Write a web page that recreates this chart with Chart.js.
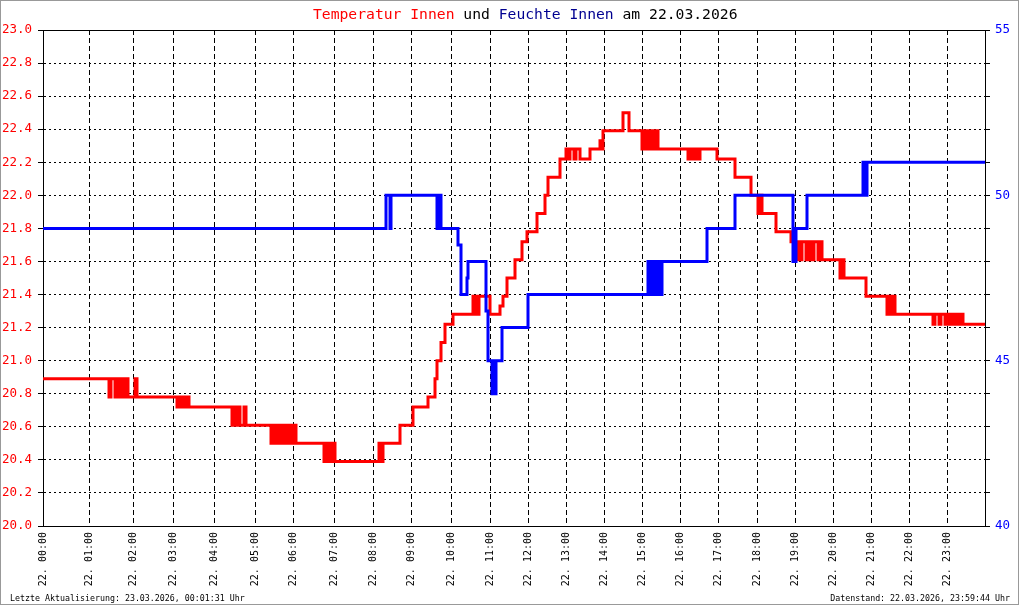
<!DOCTYPE html>
<html>
<head>
<meta charset="utf-8">
<script src="https://cdn.jsdelivr.net/npm/chart.js@4/dist/chart.umd.min.js"></script>
<style>
    html, body { margin: 0; padding: 0; background: #fff; }
    #wrap { position: relative; width: 1020px; height: 606px; overflow: hidden; }
    #rahmen { position: absolute; left: 0; top: 0; width: 1019px; height: 605px; border: 1px solid #999; box-sizing: border-box; pointer-events: none; }
    .txt { position: absolute; font-family: "DejaVu Sans Mono", monospace; white-space: pre; color: #000; }
    #titel { left: 313px; top: 6px; font-size: 14.7px; line-height: 15px; }
    #titel .rot { color: #ff0000; }
    #titel .blau { color: #000090; }
    #links { left: 10px; top: 594px; font-size: 8.3px; line-height: 9px; }
    #rechts { right: 10px; top: 594px; font-size: 8.3px; line-height: 9px; }
</style>
</head>
<body>
<div id="wrap">
    <canvas id="diagramm" width="1020" height="606"></canvas>
    <div class="txt" id="titel"><span class="rot">Temperatur Innen</span> und <span class="blau">Feuchte Innen</span> am 22.03.2026</div>
    <div class="txt" id="links">Letzte Aktualisierung: 23.03.2026, 00:01:31 Uhr</div>
    <div class="txt" id="rechts">Datenstand: 22.03.2026, 23:59:44 Uhr</div>
    <div id="rahmen"></div>
</div>
<script>
// Messpunkt-Nummer (x) zu jeder vollen Stunde
var hourIdx = [0, 46, 90, 130, 171, 212, 250, 291, 330, 368, 408, 447, 485, 523, 561, 599, 637, 675, 714, 752, 790, 828, 866, 904];
var hourLabels = ["22. 00:00", "22. 01:00", "22. 02:00", "22. 03:00", "22. 04:00", "22. 05:00", "22. 06:00", "22. 07:00",
    "22. 08:00", "22. 09:00", "22. 10:00", "22. 11:00", "22. 12:00", "22. 13:00", "22. 14:00", "22. 15:00",
    "22. 16:00", "22. 17:00", "22. 18:00", "22. 19:00", "22. 20:00", "22. 21:00", "22. 22:00", "22. 23:00"];
var lastIdx = 942;

// Temperatur Innen (°C) - Wertwechsel
var tempIdx = [0, 66, 68, 72, 74, 76, 79, 81, 83, 85, 92, 94,
    134, 136, 138, 140, 142, 144, 146,
    189, 191, 193, 195, 197, 201, 203,
    228, 230, 233, 235, 238, 241, 244, 246, 249, 251, 253,
    281, 284, 286, 289, 292,
    336, 338, 340, 357, 370, 385,
    392, 394, 398, 402, 410,
    430, 432, 433, 435, 436, 447, 457, 460, 464, 472, 479, 484, 494, 502, 505, 517,
    523, 525, 527, 531, 533, 537, 547, 557, 559, 560, 580, 586,
    599, 601, 603, 605, 607, 609, 611, 613, 615,
    645, 647, 649, 652, 655, 657, 674, 692, 708, 715, 717, 719, 733, 748,
    752, 754, 757, 759, 763, 765, 768, 771, 775, 777, 779,
    797, 799, 801, 823, 844, 846, 848, 850, 852,
    890, 892, 896, 898, 902, 905, 908, 911, 914, 917, 920, 942];
var tempVal = [20.89, 20.78, 20.89, 20.78, 20.89, 20.78, 20.89, 20.78, 20.89, 20.78, 20.89, 20.78,
    20.72, 20.78, 20.72, 20.78, 20.72, 20.78, 20.72,
    20.61, 20.72, 20.61, 20.72, 20.61, 20.72, 20.61,
    20.50, 20.61, 20.50, 20.61, 20.50, 20.61, 20.50, 20.61, 20.50, 20.61, 20.50,
    20.39, 20.50, 20.39, 20.50, 20.39,
    20.50, 20.39, 20.50, 20.61, 20.72, 20.78,
    20.89, 21.00, 21.11, 21.22, 21.28,
    21.39, 21.28, 21.39, 21.28, 21.39, 21.28, 21.33, 21.39, 21.50, 21.61, 21.72, 21.78, 21.89, 22.00, 22.11, 22.22,
    22.28, 22.22, 22.28, 22.22, 22.28, 22.22, 22.28, 22.33, 22.28, 22.39, 22.50, 22.39,
    22.28, 22.39, 22.28, 22.39, 22.28, 22.39, 22.28, 22.39, 22.28,
    22.22, 22.28, 22.22, 22.28, 22.22, 22.28, 22.22, 22.11, 22.00, 21.89, 22.00, 21.89, 21.78, 21.72,
    21.61, 21.72, 21.61, 21.72, 21.61, 21.72, 21.61, 21.72, 21.61, 21.72, 21.61,
    21.50, 21.61, 21.50, 21.39, 21.28, 21.39, 21.28, 21.39, 21.28,
    21.22, 21.28, 21.22, 21.28, 21.22, 21.28, 21.22, 21.28, 21.22, 21.28, 21.22, 21.22];

// Feuchte Innen (%) - Wertwechsel
var humIdx = [0, 343, 347, 348, 394, 395, 396, 397, 398, 415, 418, 424, 425,
    443, 445, 449, 450, 451, 453, 459, 485,
    605, 606, 607, 609, 610, 612, 613, 615, 616, 618, 619,
    664, 692, 750, 753, 764, 820, 821, 822, 823, 824, 942];
var humVal = [49, 50, 49, 50, 49, 50, 49, 50, 49, 48.5, 47, 47.5, 48,
    46.5, 45, 44, 45, 44, 45, 46, 47,
    48, 47, 48, 47, 48, 47, 48, 47, 48, 47, 48,
    49, 50, 48, 49, 50, 51, 50, 51, 50, 51, 51];

function toPoints(xs, ys) {
    return xs.map(function (x, i) { return { x: x, y: ys[i] }; });
}

// Rahmen oben um die Zeichenflaeche
var framePlugin = {
    id: 'frame',
    afterDraw: function (chart) {
        var a = chart.chartArea, ctx = chart.ctx;
        ctx.save();
        ctx.strokeStyle = '#000';
        ctx.lineWidth = 1;
        ctx.beginPath();
        ctx.moveTo(a.left, a.top + 0.5);
        ctx.lineTo(a.right, a.top + 0.5);
        ctx.stroke();
        ctx.restore();
    }
};

Chart.defaults.font.family = '"DejaVu Sans Mono", monospace';

var myChart = new Chart(document.getElementById('diagramm'), {
    type: 'line',
    data: {
        datasets: [{
            label: 'Feuchte Innen',
            data: toPoints(humIdx, humVal),
            yAxisID: 'y1',
            borderColor: 'rgb(0, 0, 255)',
            borderWidth: 3,
            stepped: true,
            pointRadius: 0,
            fill: false,
            order: 0
        }, {
            label: 'Temperatur Innen',
            data: toPoints(tempIdx, tempVal),
            yAxisID: 'y',
            borderColor: 'rgb(255, 0, 0)',
            borderWidth: 3,
            stepped: true,
            pointRadius: 0,
            fill: false,
            order: 1
        }]
    },
    options: {
        responsive: false,
        animation: false,
        events: [],
        layout: { padding: { top: 30, left: 0, right: 0, bottom: 0 } },
        plugins: {
            legend: { display: false },
            tooltip: { enabled: false },
            title: { display: false }
        },
        scales: {
            x: {
                type: 'linear',
                min: 0,
                max: lastIdx,
                afterBuildTicks: function (scale) {
                    scale.ticks = hourIdx.map(function (v) { return { value: v }; });
                },
                afterFit: function (scale) { scale.height = 80; },
                ticks: {
                    autoSkip: false,
                    minRotation: 90,
                    maxRotation: 90,
                    padding: 6,
                    color: '#000',
                    font: { size: 10 },
                    callback: function (value, index) { return hourLabels[index]; }
                },
                grid: { color: '#000', lineWidth: 1, drawTicks: false },
                border: { display: true, color: '#000', width: 1, dash: [5, 3] }
            },
            y: {
                position: 'left',
                min: 20,
                max: 23,
                afterFit: function (scale) { scale.width = 43; },
                ticks: {
                    stepSize: 0.2,
                    padding: 6,
                    color: 'rgb(255, 0, 0)',
                    font: { size: 12.5 },
                    callback: function (v) { return v.toFixed(1); }
                },
                grid: { color: '#000', lineWidth: 1, tickLength: 5, tickColor: '#000', tickBorderDash: [] },
                border: { display: true, color: '#000', width: 1, dash: [2, 3] }
            },
            y1: {
                position: 'right',
                min: 40,
                max: 55,
                afterFit: function (scale) { scale.width = 35; },
                ticks: {
                    stepSize: 1,
                    autoSkip: false,
                    padding: 5,
                    color: 'rgb(0, 0, 255)',
                    font: { size: 12.5 },
                    callback: function (v) { return v % 5 === 0 ? String(v) : ''; }
                },
                grid: { drawOnChartArea: false, tickLength: 5, tickColor: '#000' },
                border: { display: true, color: '#000', width: 1 }
            }
        }
    },
    plugins: [framePlugin]
});
</script>
</body>
</html>
